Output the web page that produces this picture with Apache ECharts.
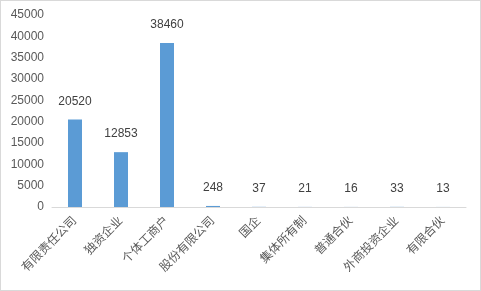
<!DOCTYPE html>
<html><head><meta charset="utf-8">
<script src="https://cdn.jsdelivr.net/npm/echarts@6/dist/echarts.min.js"></script>
<style>html,body{margin:0;padding:0;background:#fff}#c{width:481px;height:291px;box-sizing:border-box;border:1px solid #d9d9d9}</style>
</head><body><div id="c"></div>
<script>
const categories = ['有限责任公司','独资企业','个体工商户','股份有限公司','国企','集体所有制','普通合伙','外商投资企业','有限合伙'];
const values = [20520,12853,38460,248,37,21,16,33,13];
const yMin = 0, yMax = 45000, yStep = 5000;
const chart = echarts.init(document.getElementById('c'), null, {renderer:'canvas'});
const font = 'Liberation Sans, Arial, "Noto Sans CJK SC", sans-serif';
chart.setOption({
  animation:false,
  grid:{left:51,right:14,top:14,bottom:83,containLabel:false},
  xAxis:{type:'category',data:categories,
    axisLine:{lineStyle:{color:'#d9d9d9',width:1}},axisTick:{show:false},
    axisLabel:{rotate:45,interval:0,color:'#595959',fontSize:12,fontFamily:font,margin:12}},
  yAxis:{type:'value',min:yMin,max:yMax,interval:yStep,
    splitLine:{show:false},axisLine:{show:false},axisTick:{show:false},
    axisLabel:{color:'#595959',fontSize:12,fontFamily:font,margin:8,formatter:v=>String(v)}},
  series:[{type:'bar',data:values,barWidth:14,itemStyle:{color:'#5B9BD5'},
    label:{show:true,position:'top',distance:12,color:'#404040',fontSize:12,fontFamily:font}}]
});
</script></body></html>
